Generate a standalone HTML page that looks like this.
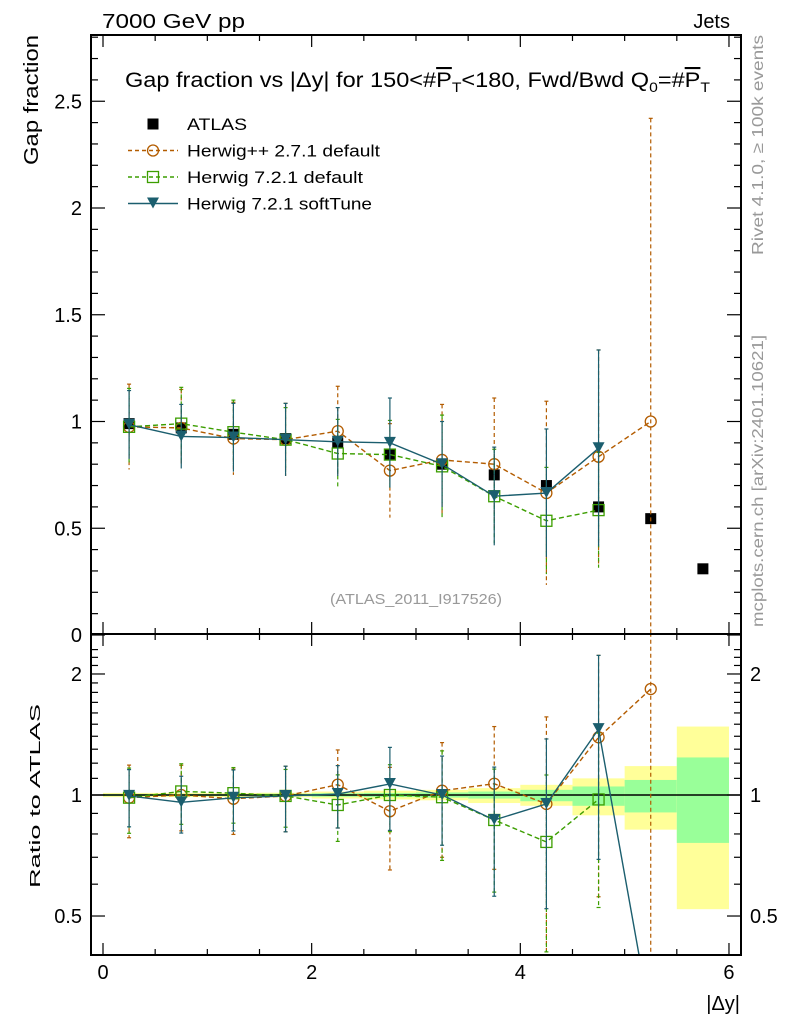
<!DOCTYPE html>
<html><head><meta charset="utf-8"><style>
html,body{margin:0;padding:0;background:#fff;overflow:hidden;width:786px;height:1024px;}
svg{display:block;font-family:"Liberation Sans",Arial,sans-serif;}
</style></head><body>
<svg id="c" width="786" height="1024" viewBox="0 0 786 1024" xmlns="http://www.w3.org/2000/svg">
<rect x="0" y="0" width="786" height="1024" fill="#fff"/>
<text x="102" y="28" font-size="20" textLength="143" lengthAdjust="spacingAndGlyphs">7000 GeV pp</text>
<text x="730" y="28" font-size="20" text-anchor="end">Jets</text>
<text transform="translate(38,35) rotate(-90)" font-size="20" text-anchor="end" textLength="130" lengthAdjust="spacingAndGlyphs">Gap fraction</text>
<text transform="translate(40,888) rotate(-90)" font-size="15" textLength="184" lengthAdjust="spacingAndGlyphs">Ratio to ATLAS</text>
<text transform="translate(763,255) rotate(-90)" font-size="16" fill="#999" textLength="220" lengthAdjust="spacingAndGlyphs">Rivet 4.1.0, ≥ 100k events</text>
<text transform="translate(763,627) rotate(-90)" font-size="16" fill="#999" textLength="292" lengthAdjust="spacingAndGlyphs">mcplots.cern.ch [arXiv:2401.10621]</text>
<text x="740" y="1010" font-size="20" text-anchor="end">|Δy|</text>
<text x="125" y="87" font-size="21" textLength="585" lengthAdjust="spacingAndGlyphs">Gap fraction vs |Δy| for 150&lt;#<tspan text-decoration="overline">P</tspan><tspan font-size="14" dy="5">T</tspan><tspan dy="-5">&lt;180, Fwd/Bwd Q</tspan><tspan font-size="14" dy="5">0</tspan><tspan dy="-5">=#</tspan><tspan text-decoration="overline">P</tspan><tspan font-size="14" dy="5">T</tspan></text>
<text x="416" y="604" font-size="15" fill="#999" text-anchor="middle" textLength="172" lengthAdjust="spacingAndGlyphs">(ATLAS_2011_I917526)</text>
<g id="plot"></g>
<g id="legend" font-size="17"></g>
</svg>
<script>
const xEdges=[0,0.5,1,1.5,2,2.5,3,3.5,4,4.5,5,5.5,6];
const xCenters=[0.25,0.75,1.25,1.75,2.25,2.75,3.25,3.75,4.25,4.75,5.25,5.75];
const atlasVals=[0.99,0.97,0.94,0.92,0.90,0.845,0.80,0.75,0.70,0.60,0.545,0.31];
const bandTotUp=[0.012,0.012,0.012,0.013,0.02,0.025,0.03,0.04,0.06,0.10,0.18,0.48];
const bandTotDn=[0.012,0.012,0.012,0.013,0.02,0.025,0.03,0.045,0.06,0.11,0.18,0.48];
const bandStatUp=[0.006,0.006,0.006,0.007,0.01,0.012,0.015,0.02,0.03,0.05,0.09,0.24];
const bandStatDn=[0.006,0.006,0.006,0.007,0.01,0.012,0.015,0.02,0.035,0.06,0.095,0.24];
const hppVals=[0.975,0.97,0.92,0.915,0.955,0.77,0.82,0.80,0.665,0.835,1.0];
const hppErr=[0.2,0.18,0.17,0.17,0.21,0.22,0.26,0.31,0.43,0.5,1.42];
const h7Vals=[0.975,0.99,0.95,0.915,0.85,0.845,0.79,0.65,0.535,0.585];
const h7Err=[0.18,0.17,0.15,0.15,0.16,0.16,0.24,0.22,0.25,0.27];
const softVals=[0.985,0.93,0.925,0.915,0.905,0.90,0.80,0.65,0.665,0.875,0.15];
const softErr=[0.16,0.15,0.16,0.17,0.16,0.21,0.20,0.23,0.30,0.46,0.1];
const mainYTicks=[0,0.5,1,1.5,2,2.5];
const mainYTickLabels=["0","0.5","1","1.5","2","2.5"];
const ratioYTicks=[0.5,1,2];
const ratioYTickLabels=["0.5","1","2"];
const xTicks=[0,2,4,6];
const xTickLabels=["0","2","4","6"];

const L=91,R=741,T=35,MB=634,RB=955;
const X=v=>103+v*104.33;
const Y=v=>635-v*213.5;
const RY=v=>795-402*Math.log10(v);
const NS="http://www.w3.org/2000/svg";
const plot=document.getElementById('plot');
function mk(tag,attrs,parent){const e=document.createElementNS(NS,tag);for(const k in attrs)e.setAttribute(k,attrs[k]);(parent||plot).appendChild(e);return e;}
const defs=mk('defs',{});
const c1=mk('clipPath',{id:'cm'},defs);mk('rect',{x:L,y:T,width:R-L,height:MB-T},c1);
const c2=mk('clipPath',{id:'cr'},defs);mk('rect',{x:L,y:MB,width:R-L,height:RB-MB},c2);
const gM=mk('g',{'clip-path':'url(#cm)'});


const gR=mk('g',{'clip-path':'url(#cr)'});



for(let i=0;i<xCenters.length;i++){
  const b=mk('rect',{x:X(xEdges[i]),width:X(xEdges[i+1])-X(xEdges[i]),y:RY(1+bandTotUp[i]),height:RY(1-bandTotDn[i])-RY(1+bandTotUp[i]),fill:'#ffff99'},gR);
  
  
  const g=mk('rect',{x:X(xEdges[i]),width:X(xEdges[i+1])-X(xEdges[i]),y:RY(1+bandStatUp[i]),height:RY(1-bandStatDn[i])-RY(1+bandStatUp[i]),fill:'#99ff99'},gR);
  
  
}
mk('line',{x1:L,x2:R,y1:RY(1),y2:RY(1),stroke:'#000','stroke-width':1.5},gR);

function marker(kind,cx,cy,col,g){
  let m;
  if(kind==='circle')m=mk('circle',{cx:cx,cy:cy,r:5.5,fill:'none',stroke:col,'stroke-width':1.3},g);
  else if(kind==='square')m=mk('rect',{x:cx-5.5,y:cy-5.5,width:11,height:11,fill:'none',stroke:col,'stroke-width':1.3},g);
  else if(kind==='tri')m=mk('path',{d:`M${cx-6},${cy-6}L${cx+6},${cy-6}L${cx},${cy+5}Z`,fill:col},g);
  else m=mk('rect',{x:cx-5.5,y:cy-5.5,width:11,height:11,fill:col},g);
  return m;
}
function series(vals,errs,col,dash,kind,name,nMain){
  const gm=mk('g',{},gM);
  const gr=mk('g',{},gR);
  const da=dash?'4,3':'none';
  let pm='',pr='';
  for(let i=0;i<vals.length;i++){
    const x=X(xCenters[i]);const r=vals[i]/atlasVals[i];const re=errs[i]/atlasVals[i];
    if(i<nMain){
      pm+=(pm?'L':'M')+x+','+Y(vals[i]);
      mk('line',{x1:x,x2:x,y1:Y(vals[i]+errs[i]),y2:Y(Math.max(vals[i]-errs[i],0)),stroke:col,'stroke-width':1.2,'stroke-dasharray':da},gm);
      mk('line',{x1:x-2,x2:x+2,y1:Y(vals[i]+errs[i]),y2:Y(vals[i]+errs[i]),stroke:col,'stroke-width':1.2},gm);
    }
    pr+=(pr?'L':'M')+x+','+RY(r);
    if(i<nMain){
      mk('line',{x1:x,x2:x,y1:RY(r+re),y2:RY(Math.max(r-re,0.01)),stroke:col,'stroke-width':1.2,'stroke-dasharray':da},gr);
      mk('line',{x1:x-2,x2:x+2,y1:RY(r+re),y2:RY(r+re),stroke:col,'stroke-width':1.2},gr);
      if(r-re>0.3)mk('line',{x1:x-2,x2:x+2,y1:RY(r-re),y2:RY(r-re),stroke:col,'stroke-width':1.2},gr);
    }
  }
  mk('path',{d:pm,fill:'none',stroke:col,'stroke-width':1.4,'stroke-dasharray':dash?'5,3':'none'},gm);
  mk('path',{d:pr,fill:'none',stroke:col,'stroke-width':1.4,'stroke-dasharray':dash?'5,3':'none'},gr);
  for(let i=0;i<nMain;i++){
    const x=X(xCenters[i]);
    const a=marker(kind,x,Y(vals[i]),col,gm);
    
    
    const b=marker(kind,x,RY(vals[i]/atlasVals[i]),col,gr);
    
    
  }
}
for(let i=0;i<atlasVals.length;i++){
  const a=marker('sq',X(xCenters[i]),Y(atlasVals[i]),'#000',gM);
  
  
}
series(hppVals,hppErr,'#b35c00',true,'circle','herwigpp-271',11);
series(h7Vals,h7Err,'#3c9e00',true,'square','herwig-721-default',10);
series(softVals,softErr,'#1b5e6e',false,'tri','herwig-721-softtune',10);

const f1=mk('rect',{x:L,y:T,width:R-L,height:MB-T,fill:'none',stroke:'#000','stroke-width':2});

const f2=mk('rect',{x:L,y:MB,width:R-L,height:RB-MB,fill:'none',stroke:'#000','stroke-width':2});

for(let v=0;v<=6.001;v+=0.5){
  const x=X(v);const maj=Math.abs(v-Math.round(v/2)*2)<1e-6;const len=maj?12:6;
  [T,MB].forEach(y=>mk('line',{x1:x,x2:x,y1:y,y2:y+len,stroke:'#000','stroke-width':1.2}));
  [MB,RB].forEach(y=>mk('line',{x1:x,x2:x,y1:y,y2:y-len,stroke:'#000','stroke-width':1.2}));
}
xTicks.forEach((v,i)=>{const t=mk('text',{x:X(v),y:979,'font-size':20,'text-anchor':'middle'});t.textContent=xTickLabels[i];
});
for(let k=0;k<=28;k++){
  const v=k/10;const y=Y(v);if(y<T)continue;const maj=k%5===0;const len=maj?14:7;
  mk('line',{x1:L,x2:L+len,y1:y,y2:y,stroke:'#000','stroke-width':1.2});
  mk('line',{x1:R,x2:R-len,y1:y,y2:y,stroke:'#000','stroke-width':1.2});
}
mainYTicks.forEach((v,i)=>{const t=mk('text',{x:82,y:Y(v)+7,'font-size':20,'text-anchor':'end'});t.textContent=mainYTickLabels[i];
});
const rt=[0.4,0.5,0.6,0.7,0.8,0.9,1,1.1,1.2,1.3,1.4,1.5,1.6,1.7,1.8,1.9,2,2.1,2.2,2.3];
rt.forEach(v=>{const y=RY(v);if(y<MB||y>RB)return;const maj=[0.5,1,2].includes(v);const len=maj?14:7;
  mk('line',{x1:L,x2:L+len,y1:y,y2:y,stroke:'#000','stroke-width':1.2});
  mk('line',{x1:R,x2:R-len,y1:y,y2:y,stroke:'#000','stroke-width':1.2});});
ratioYTicks.forEach((v,i)=>{
  const t=mk('text',{x:82,y:RY(v)+7,'font-size':20,'text-anchor':'end'});t.textContent=ratioYTickLabels[i];
  
  const t2=mk('text',{x:750,y:RY(v)+7,'font-size':20});t2.textContent=ratioYTickLabels[i];
  });
const lg=document.getElementById('legend');
const entries=[['ATLAS','sq','#000',null,60],['Herwig++ 2.7.1 default','circle','#b35c00','4,3',193],['Herwig 7.2.1 default','square','#3c9e00','4,3',176],['Herwig 7.2.1 softTune','tri','#1b5e6e',null,185]];
entries.forEach((e,i)=>{
  const y=124+i*26.5;
  const g=mk('g',{},lg);
  
  
  if(e[3]!==null||i===3)mk('line',{x1:128,x2:178,y1:y,y2:y,stroke:e[2],'stroke-width':1.4,'stroke-dasharray':e[3]||'none'},g);
  marker(e[1],153,y,e[2],g);
  const t=mk('text',{x:187,y:y+6,'font-size':17,textLength:e[4],lengthAdjust:'spacingAndGlyphs'},g);t.textContent=e[0];
});
</script>
</body></html>
